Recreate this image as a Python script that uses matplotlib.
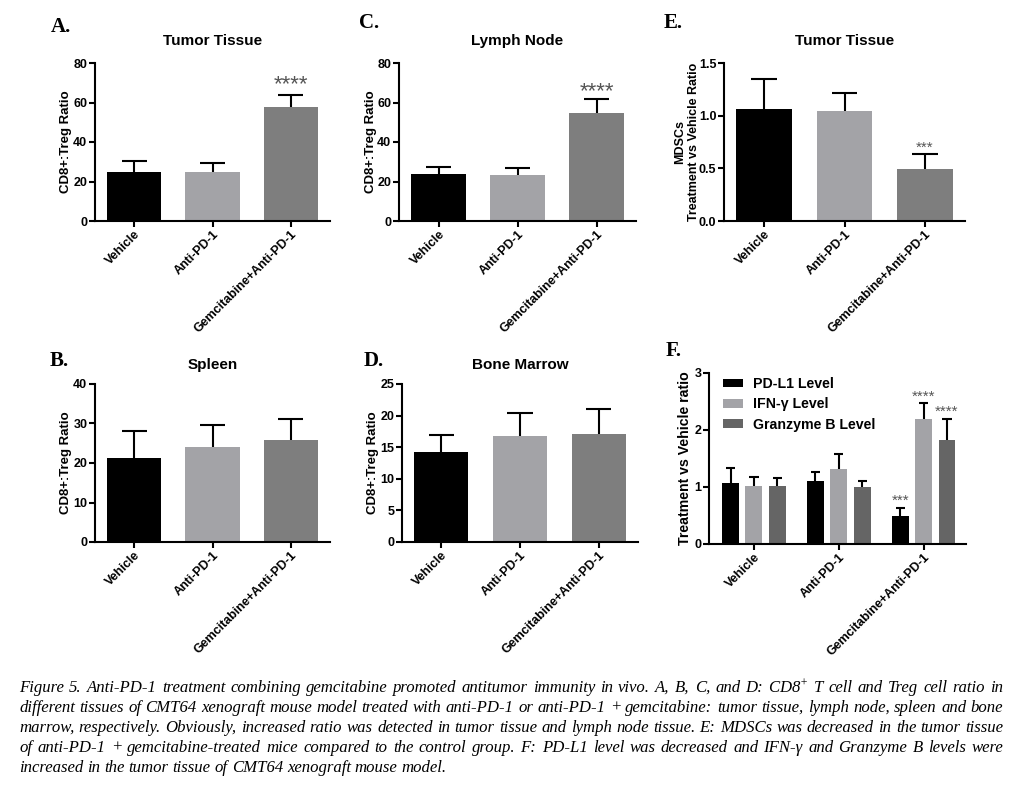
import matplotlib
matplotlib.use('Agg')
import matplotlib.pyplot as plt
import numpy as np
from matplotlib.patches import Patch

plt.rcParams['font.family'] = ['Liberation Sans', 'DejaVu Sans']
plt.rcParams['mathtext.fontset'] = 'custom'
plt.rcParams['mathtext.rm'] = 'Liberation Serif:italic'
plt.rcParams['mathtext.it'] = 'Liberation Serif:italic'

W, H = 1016, 795

# ---------------- data ----------------
groups = ['Vehicle', 'Anti-PD-1', 'Gemcitabine+Anti-PD-1']

tumor_ratio = [24.8, 24.9, 57.9]
tumor_ratio_err = [5.6, 4.3, 6.1]
lymph_ratio = [23.8, 23.1, 54.7]
lymph_ratio_err = [3.7, 3.7, 7.1]
spleen_ratio = [21.2, 24.1, 25.7]
spleen_ratio_err = [7.0, 5.4, 5.4]
marrow_ratio = [14.2, 16.8, 17.1]
marrow_ratio_err = [2.7, 3.6, 4.0]
mdsc_ratio = [1.066, 1.044, 0.497]
mdsc_ratio_err = [0.28, 0.17, 0.136]

f_series = ['PD-L1 Level', 'IFN-γ Level', 'Granzyme B Level']
pdl1 = [1.07, 1.11, 0.49]
pdl1_err = [0.27, 0.15, 0.15]
ifng = [1.02, 1.32, 2.20]
ifng_err = [0.15, 0.26, 0.27]
gzmb = [1.02, 1.00, 1.83]
gzmb_err = [0.13, 0.11, 0.37]
f_stars = [['', '', '***'], ['', '', '****'], ['', '', '****']]

bar_colors = ['#000000', '#a3a3a7', '#7e7e7e']
f_colors = ['#000000', '#a3a3a7', '#656565']

caption_lines = [
    "Figure 5. Anti-PD-1 treatment combining gemcitabine promoted antitumor immunity in vivo. A, B, C, and D: CD8$^{+}$ T cell and Treg cell ratio in",
    "different tissues of CMT64 xenograft mouse model treated with anti-PD-1 or anti-PD-1 + gemcitabine: tumor tissue, lymph node, spleen and bone",
    "marrow, respectively. Obviously, increased ratio was detected in tumor tissue and lymph node tissue. E: MDSCs was decreased in the tumor tissue",
    "of anti-PD-1 + gemcitabine-treated mice compared to the control group. F: PD-L1 level was decreased and IFN-γ and Granzyme B levels were",
    "increased in the tumor tissue of CMT64 xenograft mouse model.",
]

fig = plt.figure(figsize=(W / 100, H / 100), dpi=100)

TICK_FS = 9
LAB_FS = 9.5


def ax_px(x0, x1, ytop, ybot):
    return fig.add_axes([x0 / W, 1 - ybot / H, (x1 - x0) / W, (ybot - ytop) / H])


def style(ax, ylim, yticks, ylabel, labx, labfs=LAB_FS):
    for s in ['top', 'right']:
        ax.spines[s].set_visible(False)
    for s in ['left', 'bottom']:
        ax.spines[s].set_linewidth(1.5)
    ax.set_ylim(*ylim)
    ax.set_yticks(yticks)
    ax.tick_params(axis='both', direction='out', length=4, width=1.5, pad=1.5,
                   labelsize=TICK_FS)
    for lab in ax.get_yticklabels():
        lab.set_fontweight('bold')
    ax.set_ylabel(ylabel, fontsize=labfs, fontweight='bold')
    ax.yaxis.set_label_coords(labx, 0.5)


def xlabels(ax, x):
    ax.set_xticks(x)
    ax.set_xticklabels(groups, rotation=45, ha='right', va='top',
                       rotation_mode='anchor', fontweight='bold', fontsize=TICK_FS)


def bar_panel(ax, vals, errs, title, ylim, yticks, ylabel, labx, stars=None,
              star_fs=16, star_off=6, title_pad=13, labfs=LAB_FS):
    x = np.arange(len(vals))
    vals = np.array(vals)
    errs = np.array(errs)
    ax.bar(x, vals, width=0.69, color=bar_colors, zorder=2)
    ax.vlines(x, vals, vals + errs, color='black', lw=1.5, zorder=3)
    ax.hlines(vals + errs, x - 0.16, x + 0.16, color='black', lw=1.5, zorder=3)
    ax.set_xlim(-0.5, 2.5)
    style(ax, ylim, yticks, ylabel, labx, labfs)
    xlabels(ax, x)
    ax.set_title(title, fontsize=11, fontweight='bold', pad=title_pad)
    if stars:
        for xi, v, e, s in zip(x, vals, errs, stars):
            if s:
                ax.annotate(s, (xi, v + e), xytext=(0, star_off),
                            textcoords='offset points', ha='center',
                            va='baseline', fontsize=star_fs, color='#555555')


# Panel A
axA = ax_px(95, 330, 63, 221)
bar_panel(axA, tumor_ratio, tumor_ratio_err, 'Tumor Tissue', (0, 80),
          [0, 20, 40, 60, 80], 'CD8+:Treg Ratio', -0.098,
          stars=['', '', '****'], star_fs=16, star_off=3)
# Panel C
axC = ax_px(399, 636, 63, 221)
bar_panel(axC, lymph_ratio, lymph_ratio_err, 'Lymph Node', (0, 80),
          [0, 20, 40, 60, 80], 'CD8+:Treg Ratio', -0.093,
          stars=['', '', '****'], star_fs=16, star_off=1)
# Panel E
axE = ax_px(724, 965, 63, 221)
bar_panel(axE, mdsc_ratio, mdsc_ratio_err, 'Tumor Tissue', (0, 1.5),
          [0.0, 0.5, 1.0, 1.5], 'MDSCs\nTreatment vs Vehicle Ratio', -0.10,
          stars=['', '', '***'], star_fs=11, star_off=2, labfs=9)
axE.set_yticklabels(['0.0', '0.5', '1.0', '1.5'], fontweight='bold',
                    fontsize=TICK_FS)
# Panel B
axB = ax_px(95, 330, 384, 542)
bar_panel(axB, spleen_ratio, spleen_ratio_err, 'Spleen', (0, 40),
          [0, 10, 20, 30, 40], 'CD8+:Treg Ratio', -0.098, title_pad=11)
# Panel D
axD = ax_px(402, 638, 384, 542)
bar_panel(axD, marrow_ratio, marrow_ratio_err, 'Bone Marrow', (0, 25),
          [0, 5, 10, 15, 20, 25], 'CD8+:Treg Ratio', -0.097, title_pad=11)

# Panel F
axF = ax_px(709, 966, 373, 544)
xg = np.arange(3)
offs = [-0.276, 0.0, 0.276]
for i, (v, e, c, lab) in enumerate(zip([pdl1, ifng, gzmb],
                                       [pdl1_err, ifng_err, gzmb_err],
                                       f_colors, f_series)):
    v = np.array(v)
    e = np.array(e)
    xx = xg + offs[i]
    axF.bar(xx, v, width=0.2, color=c, zorder=2, label=lab)
    axF.vlines(xx, v, v + e, color='black', lw=1.5, zorder=3)
    axF.hlines(v + e, xx - 0.055, xx + 0.055, color='black', lw=1.5, zorder=3)
    for xi, vi, ei, s in zip(xx, v, e, f_stars[i]):
        if s:
            axF.annotate(s, (xi, vi + ei), xytext=(0, 2),
                         textcoords='offset points', ha='center',
                         va='baseline', fontsize=11, color='#555555')
axF.set_xlim(-0.53, 2.5)
style(axF, (0, 3), [0, 1, 2, 3], 'Treatment vs Vehicle ratio', -0.066,
      labfs=10.2)
xlabels(axF, xg)
handles = [Patch(facecolor=c, edgecolor='none') for c in f_colors]
leg = axF.legend(handles, f_series, loc='upper left',
                 bbox_to_anchor=(14 / 257, 1 - 4 / 171), frameon=False,
                 borderaxespad=0, borderpad=0, handlelength=1.4,
                 handleheight=0.55, handletextpad=0.7, labelspacing=0.45,
                 prop={'weight': 'bold', 'size': 10.2})

# Panel letters
letter_kw = dict(family='Liberation Serif', fontweight='bold', fontsize=15,
                 va='center', ha='left')
for lt, (px, py) in {'A.': (51, 27), 'C.': (359, 23), 'E.': (664, 23),
                     'B.': (50, 361), 'D.': (364, 361), 'F.': (666, 351)}.items():
    fig.text(px / W, 1 - py / H, lt, **letter_kw)

# Caption (justified)
fig.canvas.draw()
r = fig.canvas.get_renderer()
x_left, x_right = 19, 1003
cap_kw = dict(family='Liberation Serif', style='italic', fontsize=12.1,
              va='baseline', ha='left')
for i, line in enumerate(caption_lines):
    yb = 692 + 20 * i
    words = line.split(' ')
    texts = [fig.text(0, 1 - yb / H, w, **cap_kw) for w in words]
    widths = [t.get_window_extent(r).width for t in texts]
    if i < len(caption_lines) - 1:
        gap = (x_right - x_left - sum(widths)) / (len(words) - 1)
    else:
        gap = 4
    xc = x_left
    for t, wd in zip(texts, widths):
        t.set_x(xc / W)
        xc += wd + gap

fig.savefig('out.png', dpi=100)
